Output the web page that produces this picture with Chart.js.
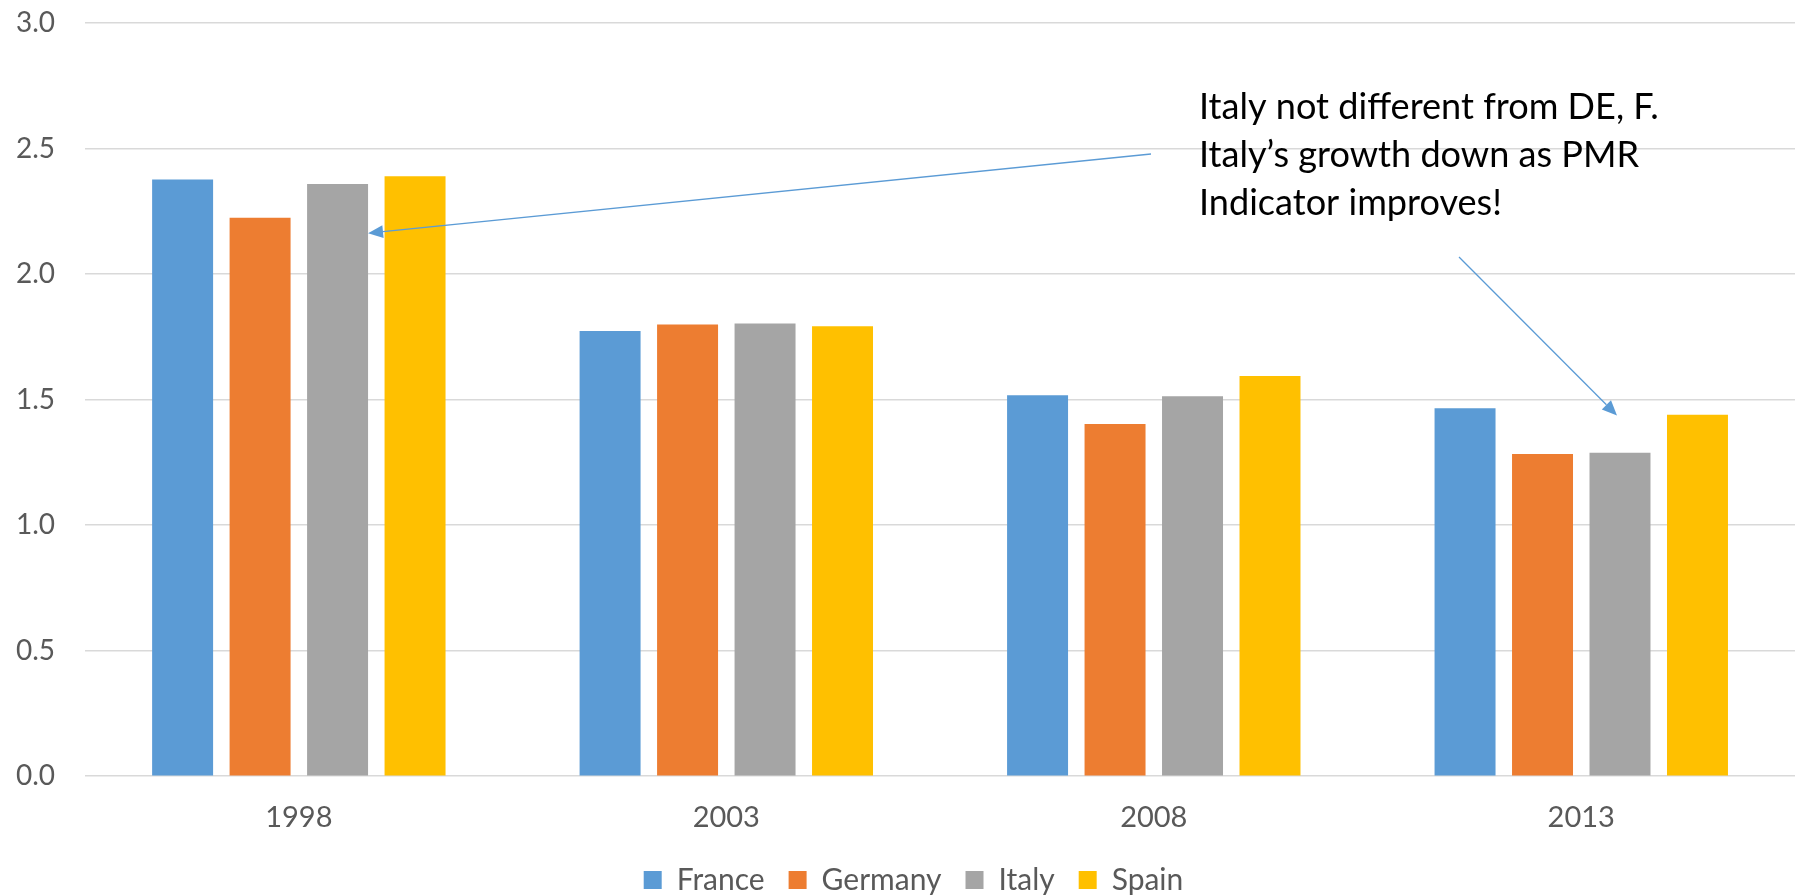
<!DOCTYPE html>
<html>
<head>
<meta charset="utf-8">
<script src="https://cdn.jsdelivr.net/npm/chart.js@4.4.0/dist/chart.umd.min.js"></script>
<style>
  html, body { margin: 0; padding: 0; background: #fff; }
  #wrap { width: 1797px; height: 895px; }
</style>
</head>
<body>
<div id="wrap"><canvas id="growthChart" width="1797" height="895"></canvas></div>
<script>
const years = ['1998', '2003', '2008', '2013'];
const france = [2.377, 1.773, 1.517, 1.466];
const germany = [2.224, 1.799, 1.403, 1.283];
const italy = [2.359, 1.803, 1.513, 1.288];
const spain = [2.390, 1.792, 1.594, 1.440];
const yTicks = [0, 0.5, 1.0, 1.5, 2.0, 2.5, 3.0];

const noteLines = [
    'Italy not different from DE, F.',
    'Italy\u2019s growth down as PMR',
    'Indicator improves!'
];

const FONT = 'Lato, "Open Sans", sans-serif';
const ARROW_COLOR = '#5B9BD5';

// legend sits a bit higher and right of where Chart.js puts it
const legendNudge = {
    id: 'legendNudge',
    beforeDraw(chart) {
        const lg = chart.legend;
        lg.top -= 18;
        lg.bottom -= 18;
        lg.left += 23;
        lg.right += 23;
    }
};

// draws the text box and the two arrows
const notePlugin = {
    id: 'notes',
    afterDatasetsDraw(chart) {
        const ctx = chart.ctx;
        const yScale = chart.scales.y;
        const italyMeta = chart.getDatasetMeta(2);

        ctx.save();
        let size = 40;
        ctx.font = size + 'px ' + FONT;
        const w = ctx.measureText(noteLines[0]).width;
        size = size * 460 / w;
        ctx.font = size + 'px ' + FONT;
        ctx.fillStyle = '#000';
        ctx.textBaseline = 'alphabetic';
        noteLines.forEach((line, i) => {
            ctx.fillText(line, 1199, 119 + i * 48);
        });

        // arrow 1 -> Italy 1998
        const b1 = italyMeta.data[0];
        drawArrow(ctx, 1151, 154, b1.x + b1.width / 2, yScale.getPixelForValue(2.163));
        // arrow 2 -> Italy 2013
        const b2 = italyMeta.data[3];
        drawArrow(ctx, 1459, 257, b2.x - 3, yScale.getPixelForValue(1.437));
        ctx.restore();
    }
};

function drawArrow(ctx, x1, y1, x2, y2) {
    const ang = Math.atan2(y2 - y1, x2 - x1);
    const len = 15, half = 6.5;
    const bx = x2 - Math.cos(ang) * len;
    const by = y2 - Math.sin(ang) * len;
    ctx.strokeStyle = ARROW_COLOR;
    ctx.fillStyle = ARROW_COLOR;
    ctx.lineWidth = 1.3;
    ctx.beginPath();
    ctx.moveTo(x1, y1);
    ctx.lineTo(bx, by);
    ctx.stroke();
    ctx.beginPath();
    ctx.moveTo(x2, y2);
    ctx.lineTo(bx + Math.sin(ang) * half, by - Math.cos(ang) * half);
    ctx.lineTo(bx - Math.sin(ang) * half, by + Math.cos(ang) * half);
    ctx.closePath();
    ctx.fill();
}

const makeSet = (label, data, color) => ({
    label: label,
    data: data,
    backgroundColor: color,
    borderColor: color,
    borderWidth: 0,
    categoryPercentage: 0.725,
    barPercentage: 0.787
});

const ctx = document.getElementById('growthChart').getContext('2d');
new Chart(ctx, {
    type: 'bar',
    data: {
        labels: years,
        datasets: [
            makeSet('France', france, '#5B9BD5'),
            makeSet('Germany', germany, '#ED7D31'),
            makeSet('Italy', italy, '#A5A5A5'),
            makeSet('Spain', spain, '#FFC000')
        ]
    },
    options: {
        responsive: false,
        animation: false,
        layout: {
            padding: { left: -14, right: 2, top: 23, bottom: -28 }
        },
        plugins: {
            legend: {
                position: 'bottom',
                labels: {
                    boxWidth: 18,
                    boxHeight: 18,
                    padding: 24,
                    color: '#595959',
                    font: { family: FONT, size: 30 }
                }
            },
            tooltip: { enabled: false }
        },
        scales: {
            y: {
                min: 0,
                max: 3,
                afterBuildTicks: (axis) => {
                    axis.ticks = yTicks.map(v => ({ value: v }));
                },
                // tick padding would otherwise push the plot top down
                afterFit: (scale) => {
                    scale.paddingTop = 0;
                    scale.paddingBottom = 0;
                },
                ticks: {
                    callback: (value) => Number(value).toFixed(1),
                    color: '#595959',
                    padding: 30,
                    font: { family: FONT, size: 28 }
                },
                grid: {
                    color: '#D9D9D9',
                    lineWidth: 1.5,
                    drawTicks: false
                },
                border: { display: false }
            },
            x: {
                ticks: {
                    color: '#595959',
                    padding: 24,
                    font: { family: FONT, size: 29 }
                },
                grid: { display: false, drawTicks: false },
                border: { display: false }
            }
        }
    },
    plugins: [notePlugin, legendNudge]
});
</script>
</body>
</html>
